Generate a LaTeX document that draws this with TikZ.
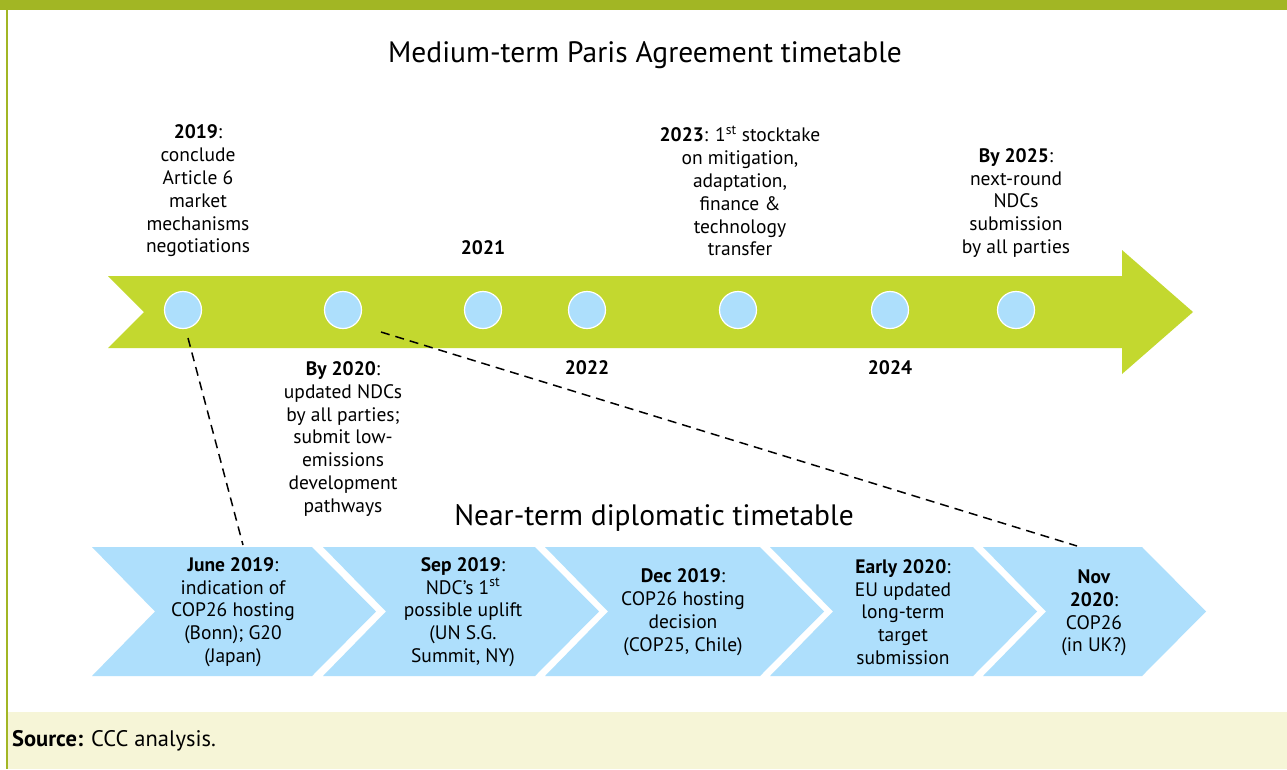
\documentclass[tikz,border=0pt]{standalone}
\usepackage{fontspec}
\setmainfont{PT Sans}
\definecolor{bandgreen}{HTML}{A2B624}
\definecolor{arrowgreen}{HTML}{C3D82F}
\definecolor{circblue}{HTML}{ADDFFC}
\definecolor{chevblue}{HTML}{AEDFFC}
\definecolor{srcbg}{HTML}{F6F5D7}
\begin{document}
\begin{tikzpicture}[x=1pt,y=-1pt,
  dot/.style={circle, fill=circblue, draw=white, line width=1.2pt, minimum size=37pt, inner sep=0pt},
  lbl/.style={align=center, font=\fontsize{19.5}{22.8}\selectfont, inner sep=0pt},
  ttl/.style={font=\fontsize{29.5}{34}\selectfont, inner sep=0pt},
  conn/.style={dash pattern=on 9pt off 6pt, line width=1.5pt}]
\useasboundingbox (0,0) rectangle (1287,769);
% frame
\fill[white] (0,0) rectangle (1287,769);
\fill[bandgreen] (0,0) rectangle (1287,10);
\fill[srcbg] (8,712) rectangle (1287,769);
\fill[bandgreen] (5.5,0) rectangle (8,769);
% titles
\node[ttl] (t1) at (645,55) {Medium-term Paris Agreement timetable};
\node[ttl] (t2) at (654,518) {Near-term diplomatic timetable};
% big arrow
\fill[arrowgreen] (108,276) -- (1122,276) -- (1122,250) -- (1193,312) -- (1122,374) -- (1122,348) -- (108,348) -- (144,312) -- cycle;
% circles
\node[dot] (c1) at (183,310) {};
\node[dot] (c2) at (343,310) {};
\node[dot] (c3) at (483,310) {};
\node[dot] (c4) at (587,310) {};
\node[dot] (c5) at (738,310) {};
\node[dot] (c6) at (890,310) {};
\node[dot] (c7) at (1016,310) {};
% upper labels
\node[lbl] (l1) at (198,191) {\textbf{2019}:\\conclude\\Article 6\\market\\mechanisms\\negotiations};
\node[lbl] (l3) at (483,248) {\textbf{2021}};
\node[lbl] (l5) at (740,191) {\textbf{2023}: 1\textsuperscript{st} stocktake\\on mitigation,\\adaptation,\\finance \&\\technology\\transfer};
\node[lbl] (l7) at (1016,203) {\textbf{By 2025}:\\next-round\\NDCs\\submission\\by all parties};
% lower labels
\node[lbl] (l2) at (343,439) {\textbf{By 2020}:\\updated NDCs\\by all parties;\\submit low-\\emissions\\development\\pathways};
\node[lbl] (l4) at (587,368) {\textbf{2022}};
\node[lbl] (l6) at (890,368) {\textbf{2024}};
% chevrons
\foreach \l/\r in {92/312, 323/535, 545/760, 770/973, 983/1142}
  \fill[chevblue] (\l,547) -- (\r,547) -- ({\r+64},611.5) -- (\r,676) -- (\l,676) -- ({\l+63},611.5) -- cycle;
\node[lbl] (e1) at (233,612) {\textbf{June 2019}:\\indication of\\COP26 hosting\\(Bonn); G20\\(Japan)};
\node[lbl] (e2) at (463,612) {\textbf{Sep 2019}:\\NDC’s 1\textsuperscript{st}\\possible uplift\\(UN S.G.\\Summit, NY)};
\node[lbl] (e3) at (683,612) {\textbf{Dec 2019}:\\COP26 hosting\\decision\\(COP25, Chile)};
\node[lbl] (e4) at (903,612) {\textbf{Early 2020}:\\EU updated\\long-term\\target\\submission};
\node[lbl] (e5) at (1094,613) {\textbf{Nov}\\\textbf{2020}:\\COP26\\(in UK?)};
% dashed connectors
\coordinate (d1s) at (188,338);
\coordinate (d1e) at (243,545);
\coordinate (d2s) at (381,332);
\coordinate (d2e) at (1077,546);
\draw[conn] (d1s) -- (d1e);
\draw[conn] (d2s) -- (d2e);
% source
\node[anchor=west, inner sep=0pt, font=\fontsize{22.5}{26}\selectfont] (src) at (12,741) {\textbf{Source:} CCC analysis.};
\end{tikzpicture}
\end{document}
